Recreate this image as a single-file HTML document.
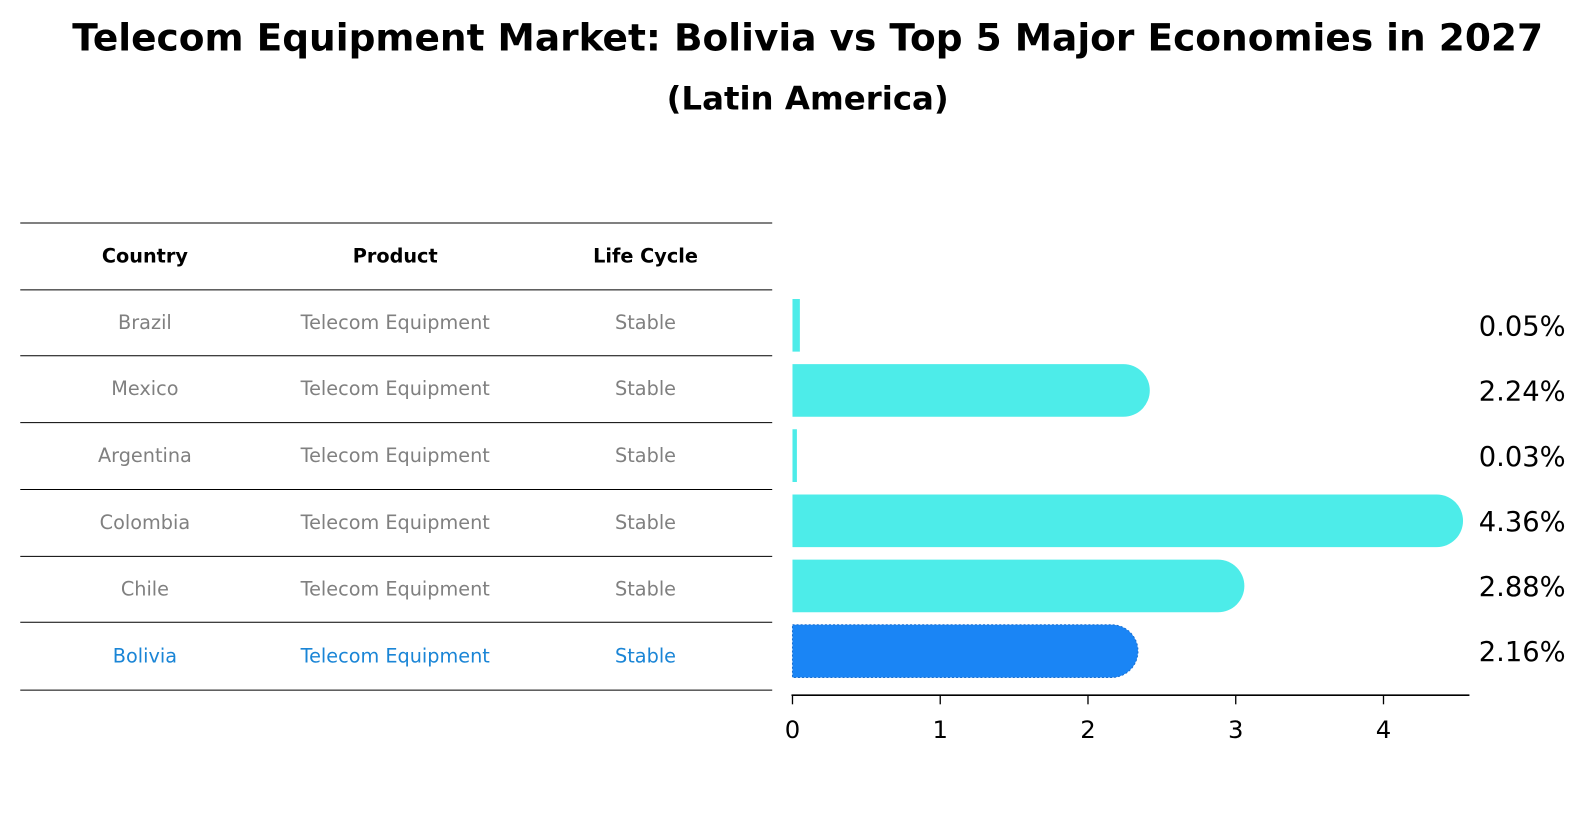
<!DOCTYPE html>
<html><head><meta charset="utf-8"><style>
body{margin:0;background:#fff;font-family:"DejaVu Sans","Liberation Sans",sans-serif;}
svg text{font-family:"DejaVu Sans","Liberation Sans",sans-serif;}
</style></head><body>
<svg width="1589" height="823" xmlns="http://www.w3.org/2000/svg">
<g id="c" transform="scale(1.0134)">
<text x="797" y="50" text-anchor="middle" font-size="37" font-weight="bold">Telecom Equipment Market: Bolivia vs Top 5 Major Economies in 2027</text>
<text x="797" y="108" text-anchor="middle" font-size="32" font-weight="bold">(Latin America)</text>
<g id="tbl"></g>
<g id="bars"></g>
</g>
</svg>
<script>
const countries=["Brazil","Mexico","Argentina","Colombia","Chile","Bolivia"];
const values=[0.05,2.24,0.03,4.36,2.88,2.16];
const valueLabels=["0.05%","2.24%","0.03%","4.36%","2.88%","2.16%"];
const products=["Telecom Equipment","Telecom Equipment","Telecom Equipment","Telecom Equipment","Telecom Equipment","Telecom Equipment"];
const lifeCycles=["Stable","Stable","Stable","Stable","Stable","Stable"];
const ticks=[0,1,2,3,4];
const NS="http://www.w3.org/2000/svg";
const tbl=document.getElementById('tbl'),bars=document.getElementById('bars');
function mk(t,a,p){const e=document.createElementNS(NS,t);for(const k in a)e.setAttribute(k,a[k]);p.appendChild(e);return e;}
const x=v=>782+v*145.8;
const yc=i=>321+i*64.3;
const rowLines=[220,286,351,417,483,549,614,681];
rowLines.forEach(yy=>{const l=mk('line',{x1:20,x2:762,y1:yy,y2:yy,stroke:'#000','stroke-width':1},tbl);

});
const colX=[143,390,637];
["Country","Product","Life Cycle"].forEach((h,j)=>{const t=mk('text',{x:colX[j],y:259,'text-anchor':'middle','font-size':19,'font-weight':'bold'},tbl);t.textContent=h;

});
countries.forEach((c,i)=>{
 const col=c==="Bolivia"?"#1a85d6":"#808080";
 [c,products[i],lifeCycles[i]].forEach((s,j)=>{
  const t=mk('text',{x:colX[j],y:(rowLines[i+1]+rowLines[i+2])/2+6,'text-anchor':'middle','font-size':19,fill:col},tbl);t.textContent=s;
  
  
 });
 const h=52,y0=yc(i)-h/2,w=x(values[i])-x(0),r=h/2;
 const fill=c==="Bolivia"?"#1a85f5":"#4dece9";
 let d;
 if(w>r){d=`M${x(0)},${y0} H${x(values[i])} A${r},${r} 0 0 1 ${x(values[i])},${y0+h} H${x(0)} Z`;}
 else {d=`M${x(0)},${y0} H${x(0)+Math.max(w,3)} V${y0+h} H${x(0)} Z`;}
 const b=mk('path',{d:d,fill:fill},bars);
 if(c==="Bolivia"){b.setAttribute('stroke','#1a6fd0');b.setAttribute('stroke-dasharray','2,2');}
 
 
 const t=mk('text',{x:1545,y:yc(i)+10,'text-anchor':'end','font-size':27},bars);t.textContent=valueLabels[i];
 
 
});
const ax=mk('line',{x1:781,x2:1450,y1:686,y2:686,stroke:'#000','stroke-width':1.5},bars);


ticks.forEach(v=>{
 const l=mk('line',{x1:x(v),x2:x(v),y1:686,y2:695,stroke:'#000','stroke-width':1.3},bars);
 
 
 const t=mk('text',{x:x(v),y:728,'text-anchor':'middle','font-size':24},bars);t.textContent=v;
 
 
});
</script>
</body></html>
